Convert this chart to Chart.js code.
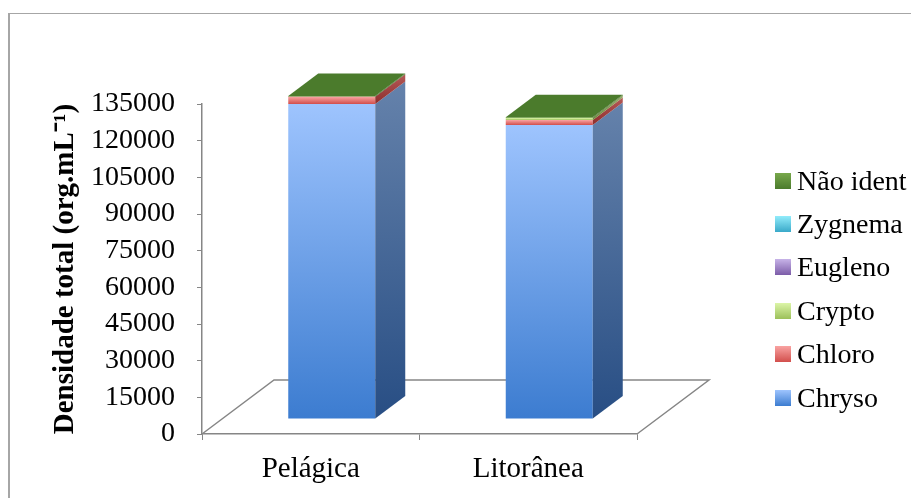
<!DOCTYPE html>
<html lang="pt">
<head>
<meta charset="utf-8">
<title>Densidade total</title>
<script src="https://cdn.jsdelivr.net/npm/chart.js@4/dist/chart.umd.min.js"></script>
<style>
    body { margin: 0; background: #fff; overflow: hidden; }
    #wrap { position: relative; width: 911px; height: 498px; }
    #moldura {
        position: absolute; left: 8px; top: 13px; width: 1000px; height: 1000px;
        border-top: 1px solid #a6a6a6; border-left: 2px solid #a6a6a6;
    }
    canvas { position: absolute; left: 0; top: 0; }
    #legenda {
        position: absolute; left: 775px; top: 159px; margin: 0; padding: 0;
        list-style: none; font: 28px "Liberation Serif", serif; color: #000;
    }
    #legenda li { height: 43.4px; display: flex; align-items: center; white-space: nowrap; }
    #legenda .caixa { width: 16px; height: 16px; margin-right: 6px; }
</style>
</head>
<body>
<div id="wrap">
    <div id="moldura"></div>
    <canvas id="densidade-total" width="911" height="498"></canvas>
    <ul id="legenda"></ul>
</div>
<script>
/*
/---------------------------------/
/- densidade total por grupo (barras empilhadas 3D) -/
/---------------------------------/
*/
const categorias = ["Pelágica", "Litorânea"];
const chryso = [128900, 120300];
const chloro = [2900, 2000];
const crypto = [0, 800];
const eugleno = [0, 0];
const zygnema = [0, 0];
const naoIdent = [300, 300];
const ticksY = [0, 15000, 30000, 45000, 60000, 75000, 90000, 105000, 120000, 135000];

// cores: frente (topo -> base), lado (topo -> base), face de cima
const estilos = {
    Chryso: { frente: ["#9ec4fe", "#3c7cd0"], lado: ["#6582ab", "#284e84"], topo: "#8fb5ee" },
    Chloro: { frente: ["#f9a3a2", "#d24f4c"], lado: ["#b45a58", "#8e2d2b"], topo: "#e88c8a" },
    Crypto: { frente: ["#dcf5a8", "#9cc05a"], lado: ["#98ac6a", "#6a8a36"], topo: "#c8e68e" },
    Eugleno: { frente: ["#c7b3e8", "#7c5ca8"], lado: ["#8c78a8", "#54407a"], topo: "#b49ed8" },
    Zygnema: { frente: ["#92ecfb", "#3aa9c9"], lado: ["#6aa8b8", "#2a7c94"], topo: "#7cd8ee" },
    "Não ident": { frente: ["#78a84c", "#4b7b2c"], lado: ["#4e7a30", "#3a5e22"], topo: "#4b7b2c" },
};

// deslocamentos da perspectiva (px)
const FRENTE_X = 21, FRENTE_Y = -15;
const PROF_X = 30, PROF_Y = -22.5;
const CHAO_X = 72, CHAO_Y = -54;
const CINZA = "#868686";
const FONTE = "Liberation Serif";

function gradienteFrente(cores) {
    return function (context) {
        const chart = context.chart;
        const y = chart.scales.y;
        if (!y || context.type !== "data") return cores[1];
        const d = context.datasetIndex, i = context.dataIndex;
        let inicio = 0;
        for (let k = 0; k < d; k++) inicio += chart.data.datasets[k].data[i];
        const fim = inicio + chart.data.datasets[d].data[i];
        const y0 = y.getPixelForValue(fim), y1 = y.getPixelForValue(inicio);
        if (!isFinite(y0) || !isFinite(y1) || y0 === y1) return cores[1];
        const g = chart.ctx.createLinearGradient(0, y0, 0, y1);
        g.addColorStop(0, cores[0]);
        g.addColorStop(1, cores[1]);
        return g;
    };
}

function serie(nome, valores) {
    return {
        label: nome,
        data: valores,
        backgroundColor: gradienteFrente(estilos[nome].frente),
        borderWidth: 0,
        categoryPercentage: 1,
        barPercentage: 0.4,
        clip: false,
    };
}

const dataDensidade = {
    labels: categorias,
    datasets: [
        serie("Chryso", chryso),
        serie("Chloro", chloro),
        serie("Crypto", crypto),
        serie("Eugleno", eugleno),
        serie("Zygnema", zygnema),
        serie("Não ident", naoIdent),
    ],
};

// chão em perspectiva + deslocamento das barras + faces laterais e de cima
const efeito3D = {
    id: "efeito3D",
    beforeDatasetsDraw(chart) {
        const { ctx, chartArea: a } = chart;
        ctx.save();
        ctx.strokeStyle = CINZA;
        ctx.lineWidth = 1.5;
        ctx.beginPath();
        ctx.moveTo(a.left, a.bottom);
        ctx.lineTo(a.left + CHAO_X, a.bottom + CHAO_Y);
        ctx.lineTo(a.right + CHAO_X, a.bottom + CHAO_Y);
        ctx.lineTo(a.right, a.bottom);
        ctx.stroke();
        ctx.restore();
        ctx.save();
        ctx.translate(FRENTE_X, FRENTE_Y);
    },
    afterDatasetsDraw(chart) {
        const ctx = chart.ctx;
        ctx.restore();
        const topos = {};
        chart.data.datasets.forEach((ds, d) => {
            const est = estilos[ds.label];
            chart.getDatasetMeta(d).data.forEach((bar, i) => {
                if (!ds.data[i]) return;
                const p = bar.getProps(["x", "y", "base", "width"], true);
                const esq = p.x - p.width / 2 + FRENTE_X;
                const dir = p.x + p.width / 2 + FRENTE_X;
                const cima = p.y + FRENTE_Y;
                const baixo = p.base + FRENTE_Y;
                const g = ctx.createLinearGradient(0, cima + PROF_Y, 0, baixo);
                g.addColorStop(0, est.lado[0]);
                g.addColorStop(1, est.lado[1]);
                ctx.fillStyle = g;
                ctx.beginPath();
                ctx.moveTo(dir, cima);
                ctx.lineTo(dir + PROF_X, cima + PROF_Y);
                ctx.lineTo(dir + PROF_X, baixo + PROF_Y);
                ctx.lineTo(dir, baixo);
                ctx.closePath();
                ctx.fill();
                topos[i] = { esq, dir, cima, cor: est.topo };
            });
        });
        Object.values(topos).forEach((t) => {
            ctx.fillStyle = t.cor;
            ctx.beginPath();
            ctx.moveTo(t.esq, t.cima);
            ctx.lineTo(t.esq + PROF_X, t.cima + PROF_Y);
            ctx.lineTo(t.dir + PROF_X, t.cima + PROF_Y);
            ctx.lineTo(t.dir, t.cima);
            ctx.closePath();
            ctx.fill();
        });
    },
};

// legenda em html (ordem inversa, como no original)
const legendaHtml = {
    id: "legendaHtml",
    afterUpdate(chart) {
        const ul = document.getElementById("legenda");
        ul.innerHTML = "";
        chart.data.datasets.slice().reverse().forEach((ds) => {
            const cores = estilos[ds.label].frente;
            const li = document.createElement("li");
            const caixa = document.createElement("span");
            caixa.className = "caixa";
            caixa.style.background = `linear-gradient(${cores[0]}, ${cores[1]})`;
            li.appendChild(caixa);
            li.appendChild(document.createTextNode(ds.label));
            ul.appendChild(li);
        });
    },
};

const configDensidade = {
    type: "bar",
    data: dataDensidade,
    plugins: [efeito3D, legendaHtml],
    options: {
        responsive: false,
        animation: false,
        layout: {
            padding: { top: 104, right: 274, bottom: 0, left: 0 },
        },
        scales: {
            x: {
                stacked: true,
                afterFit: (s) => { s.height = 64; },
                ticks: {
                    font: { family: FONTE, size: 29 },
                    color: "#000",
                    padding: 12,
                },
                grid: {
                    offset: true,
                    drawOnChartArea: false,
                    tickLength: 6,
                    color: CINZA,
                },
                border: { color: CINZA, width: 1.5 },
            },
            y: {
                stacked: true,
                min: 0,
                max: 135000,
                afterBuildTicks: (s) => { s.ticks = ticksY.map((v) => ({ value: v })); },
                afterFit: (s) => { s.width = 202; },
                ticks: {
                    font: { family: FONTE, size: 28 },
                    color: "#000",
                    padding: 22,
                    callback: function (value) {
                        return String(value);
                    },
                },
                grid: {
                    drawOnChartArea: false,
                    tickLength: 5,
                    color: CINZA,
                },
                border: { color: CINZA, width: 1.5 },
                title: {
                    display: true,
                    text: "Densidade total (org.mL⁻¹)",
                    font: { family: FONTE, size: 29, weight: "bold" },
                    color: "#000",
                    padding: { top: 48, bottom: 0 },
                },
            },
        },
        plugins: {
            legend: { display: false },
            tooltip: { enabled: false },
        },
    },
};

const canvasDensidade = document.getElementById("densidade-total");
new Chart(canvasDensidade, configDensidade);
</script>
</body>
</html>
